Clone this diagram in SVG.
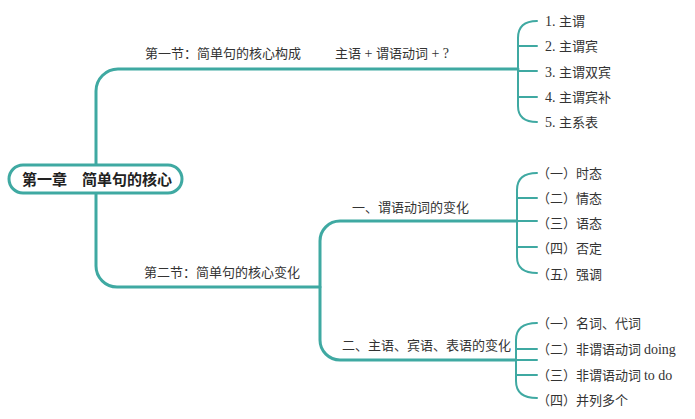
<svg xmlns="http://www.w3.org/2000/svg" width="695" height="419" viewBox="0 0 695 419">
<style>
.ln{fill:none;stroke:#3fa9a2;stroke-linecap:round;stroke-linejoin:round}
.main{stroke-width:3}
.br{stroke-width:2}
text{font-family:"Noto Sans CJK SC","Noto Sans",sans-serif;font-size:13px;fill:#333}
.sf{font-family:"Liberation Serif","Noto Sans CJK SC",serif}
.big{font-size:14px}
.root{font-size:15px;font-weight:bold;fill:#222}
</style>
<rect width="695" height="419" fill="#fff"/>
<g id="connectors">
<path class="ln main" d="M96 165 V91 A22 22 0 0 1 118 69 H518"/>
<path class="ln main" d="M96 193 V266 A21 21 0 0 0 117 287 H320"/>
<path class="ln main" d="M517 221 H340 A20 20 0 0 0 320 241 V340 A20 20 0 0 0 340 360 H516"/>
<path class="ln br" d="M537 21 Q518 21 518 38 V106 Q518 122 537 122 M518 46 H537 M518 71 H537 M518 97 H537"/>
<path class="ln br" d="M537 173 Q517 173 517 190 V257 Q517 273 537 273 M517 198 H537 M517 221 H537 M517 247 H537"/>
<path class="ln br" d="M537 323 Q516 323 516 340 V381 Q516 398 537 398 M516 349 H537 M516 360 H537 M516 375 H537"/>
</g>
<g id="root">
<rect x="9" y="165" width="173" height="28" rx="14" fill="#fff" stroke="#3fa9a2" stroke-width="3"/>
<text class="root" x="22" y="184.5">第一章　简单句的核心</text>
</g>
<g id="sec1">
<text x="145" y="58">第一节：简单句的核心构成</text>
<text x="335" y="58">主语<tspan class="sf big"> + </tspan>谓语动词<tspan class="sf big"> + ?</tspan></text>
</g>
<g id="sec1-items">
<text x="545" y="26"><tspan class="sf big">1. </tspan>主谓</text>
<text x="545" y="51"><tspan class="sf big">2. </tspan>主谓宾</text>
<text x="545" y="77"><tspan class="sf big">3. </tspan>主谓双宾</text>
<text x="545" y="102"><tspan class="sf big">4. </tspan>主谓宾补</text>
<text x="545" y="127"><tspan class="sf big">5. </tspan>主系表</text>
</g>
<g id="sec2">
<text x="144" y="277">第二节：简单句的核心变化</text>
</g>
<g id="sub1">
<text x="352" y="212">一、谓语动词的变化</text>
<text x="537" y="178">（一）时态</text>
<text x="537" y="203">（二）情态</text>
<text x="537" y="228">（三）语态</text>
<text x="537" y="253">（四）否定</text>
<text x="537" y="279">（五）强调</text>
</g>
<g id="sub2">
<text x="342" y="350">二、主语、宾语、表语的变化</text>
<text x="537" y="328">（一）名词、代词</text>
<text x="537" y="354">（二）非谓语动词 <tspan class="sf big">doing</tspan></text>
<text x="537" y="380">（三）非谓语动词 <tspan class="sf big">to do</tspan></text>
<text x="537" y="405">（四）并列多个</text>
</g>
</svg>
